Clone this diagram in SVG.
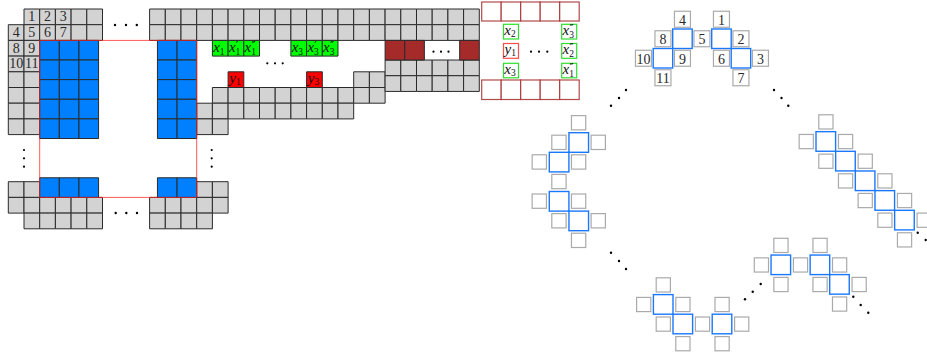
<svg xmlns="http://www.w3.org/2000/svg" width="927" height="354" viewBox="0 0 927 354">
<style>
text{font-family:"Liberation Serif","DejaVu Serif",serif;fill:#222}
.n{font-size:14px;text-anchor:middle;fill:#2a2a2a}
.it{font-size:15px;font-style:italic;fill:#111}
.sb{font-size:9.5px;font-style:normal}
.sp{font-size:11px;font-style:normal;font-family:"DejaVu Serif",serif;fill:#000}
.gb{fill:#fff;stroke:#aaa;stroke-width:1.2}
.bb{fill:none;stroke:#1a78ff;stroke-width:1.4}
.lg{fill:#fff;stroke:#2de02d;stroke-width:1.2}
.lr{fill:#fff;stroke:#ff4d4d;stroke-width:1.2}
.rb{fill:#fff;stroke:#a52a2a;stroke-width:1.2;stroke-opacity:.85}
.d{fill:#000}
</style>
<defs>
<rect id="u" width="1" height="1" vector-effect="non-scaling-stroke"/>
<rect id="b" width="1.25" height="1.25" vector-effect="non-scaling-stroke"/>
</defs>

<g id="grid" transform="translate(8.3 9) scale(15.7)" stroke="#2a2a2a" stroke-width="1">
<g id="gray" fill="#d3d3d3">
<use href="#u" x="1" y="0"/><use href="#u" x="2" y="0"/><use href="#u" x="3" y="0"/><use href="#u" x="4" y="0"/><use href="#u" x="5" y="0"/>
<use href="#u" x="9" y="0"/><use href="#u" x="10" y="0"/><use href="#u" x="11" y="0"/><use href="#u" x="12" y="0"/><use href="#u" x="13" y="0"/><use href="#u" x="14" y="0"/><use href="#u" x="15" y="0"/><use href="#u" x="16" y="0"/><use href="#u" x="17" y="0"/><use href="#u" x="18" y="0"/><use href="#u" x="19" y="0"/><use href="#u" x="20" y="0"/><use href="#u" x="21" y="0"/><use href="#u" x="22" y="0"/><use href="#u" x="23" y="0"/><use href="#u" x="24" y="0"/><use href="#u" x="25" y="0"/><use href="#u" x="26" y="0"/><use href="#u" x="27" y="0"/><use href="#u" x="28" y="0"/><use href="#u" x="29" y="0"/>
<use href="#u" x="0" y="1"/><use href="#u" x="1" y="1"/><use href="#u" x="2" y="1"/><use href="#u" x="3" y="1"/><use href="#u" x="4" y="1"/><use href="#u" x="5" y="1"/>
<use href="#u" x="9" y="1"/><use href="#u" x="10" y="1"/><use href="#u" x="11" y="1"/><use href="#u" x="12" y="1"/><use href="#u" x="13" y="1"/><use href="#u" x="14" y="1"/><use href="#u" x="15" y="1"/><use href="#u" x="16" y="1"/><use href="#u" x="17" y="1"/><use href="#u" x="18" y="1"/><use href="#u" x="19" y="1"/><use href="#u" x="20" y="1"/><use href="#u" x="21" y="1"/><use href="#u" x="22" y="1"/><use href="#u" x="23" y="1"/><use href="#u" x="24" y="1"/><use href="#u" x="25" y="1"/><use href="#u" x="26" y="1"/><use href="#u" x="27" y="1"/><use href="#u" x="28" y="1"/><use href="#u" x="29" y="1"/>
<use href="#u" x="0" y="2"/><use href="#u" x="1" y="2"/>
<use href="#u" x="0" y="3"/><use href="#u" x="1" y="3"/>
<use href="#u" x="0" y="4"/><use href="#u" x="1" y="4"/><use href="#u" x="22" y="4"/><use href="#u" x="23" y="4"/>
<use href="#u" x="0" y="5"/><use href="#u" x="1" y="5"/>
<use href="#u" x="13" y="5"/><use href="#u" x="14" y="5"/><use href="#u" x="15" y="5"/><use href="#u" x="16" y="5"/><use href="#u" x="17" y="5"/><use href="#u" x="18" y="5"/><use href="#u" x="19" y="5"/><use href="#u" x="20" y="5"/><use href="#u" x="21" y="5"/><use href="#u" x="22" y="5"/><use href="#u" x="23" y="5"/>
<use href="#u" x="0" y="6"/><use href="#u" x="1" y="6"/>
<use href="#u" x="12" y="6"/><use href="#u" x="13" y="6"/><use href="#u" x="14" y="6"/><use href="#u" x="15" y="6"/><use href="#u" x="16" y="6"/><use href="#u" x="17" y="6"/><use href="#u" x="18" y="6"/><use href="#u" x="19" y="6"/><use href="#u" x="20" y="6"/><use href="#u" x="21" y="6"/>
<use href="#u" x="0" y="7"/><use href="#u" x="1" y="7"/><use href="#u" x="12" y="7"/><use href="#u" x="13" y="7"/>
<use href="#u" x="0" y="11"/><use href="#u" x="1" y="11"/><use href="#u" x="12" y="11"/><use href="#u" x="13" y="11"/>
<use href="#u" x="0" y="12"/><use href="#u" x="1" y="12"/><use href="#u" x="2" y="12"/><use href="#u" x="3" y="12"/><use href="#u" x="4" y="12"/><use href="#u" x="5" y="12"/>
<use href="#u" x="9" y="12"/><use href="#u" x="10" y="12"/><use href="#u" x="11" y="12"/><use href="#u" x="12" y="12"/><use href="#u" x="13" y="12"/>
<use href="#u" x="1" y="13"/><use href="#u" x="2" y="13"/><use href="#u" x="3" y="13"/><use href="#u" x="4" y="13"/><use href="#u" x="5" y="13"/>
<use href="#u" x="9" y="13"/><use href="#u" x="10" y="13"/><use href="#u" x="11" y="13"/><use href="#u" x="12" y="13"/>
<use href="#u" x="24" y="3.25"/><use href="#u" x="25" y="3.25"/><use href="#u" x="26" y="3.25"/><use href="#u" x="27" y="3.25"/><use href="#u" x="28" y="3.25"/><use href="#u" x="29" y="3.25"/>
<use href="#u" x="24" y="4.25"/><use href="#u" x="25" y="4.25"/><use href="#u" x="26" y="4.25"/><use href="#u" x="27" y="4.25"/><use href="#u" x="28" y="4.25"/><use href="#u" x="29" y="4.25"/>
</g>
<g id="blue" fill="#0080ff">
<use href="#b" x="2" y="2"/><use href="#b" x="3.25" y="2"/><use href="#b" x="4.5" y="2"/>
<use href="#b" x="2" y="3.25"/><use href="#b" x="3.25" y="3.25"/><use href="#b" x="4.5" y="3.25"/>
<use href="#b" x="2" y="4.5"/><use href="#b" x="3.25" y="4.5"/><use href="#b" x="4.5" y="4.5"/>
<use href="#b" x="2" y="5.75"/><use href="#b" x="3.25" y="5.75"/><use href="#b" x="4.5" y="5.75"/>
<use href="#b" x="2" y="7"/><use href="#b" x="3.25" y="7"/><use href="#b" x="4.5" y="7"/>
<use href="#b" x="2" y="10.75"/><use href="#b" x="3.25" y="10.75"/><use href="#b" x="4.5" y="10.75"/>
<use href="#b" x="9.5" y="2"/><use href="#b" x="10.75" y="2"/>
<use href="#b" x="9.5" y="3.25"/><use href="#b" x="10.75" y="3.25"/>
<use href="#b" x="9.5" y="4.5"/><use href="#b" x="10.75" y="4.5"/>
<use href="#b" x="9.5" y="5.75"/><use href="#b" x="10.75" y="5.75"/>
<use href="#b" x="9.5" y="7"/><use href="#b" x="10.75" y="7"/>
<use href="#b" x="9.5" y="10.75"/><use href="#b" x="10.75" y="10.75"/>
</g>
<g id="green" fill="#00ff00">
<use href="#u" x="13" y="2"/><use href="#u" x="14" y="2"/><use href="#u" x="15" y="2"/>
<use href="#u" x="18" y="2"/><use href="#u" x="19" y="2"/><use href="#u" x="20" y="2"/>
</g>
<g id="red" fill="#ff0000">
<use href="#u" x="14" y="4"/><use href="#u" x="19" y="4"/>
</g>
<g id="brown" fill="#a52a2a">
<use href="#b" x="24" y="2"/><use href="#b" x="25.25" y="2"/><use href="#b" x="28.75" y="2"/>
</g>
<rect id="redframe" x="2" y="2" width="10" height="10" fill="none" stroke="#ff2020" stroke-opacity=".75" vector-effect="non-scaling-stroke"/>
</g>

<g id="gridlabels">
<text class="n" x="31.85" y="21.3">1</text><text class="n" x="47.55" y="21.3">2</text><text class="n" x="63.25" y="21.3">3</text>
<text class="n" x="16.15" y="37">4</text><text class="n" x="31.85" y="37">5</text><text class="n" x="47.55" y="37">6</text><text class="n" x="63.25" y="37">7</text>
<text class="n" x="16.15" y="52.7">8</text><text class="n" x="31.85" y="52.7">9</text>
<text class="n" x="16.15" y="68.4">10</text><text class="n" x="31.85" y="68.4">11</text>
<text class="it" x="213.2" y="52.3">x<tspan class="sb" dy="2.5">1</tspan></text>
<text class="it" x="228.9" y="52.3">x<tspan class="sb" dy="2.5">1</tspan><tspan class="sp" dx="-4.5" dy="-5.5">′</tspan></text>
<text class="it" x="244.6" y="52.3">x<tspan class="sb" dy="2.5">1</tspan><tspan class="sp" dx="-4.5" dy="-5.5">″</tspan></text>
<text class="it" x="291.7" y="52.3">x<tspan class="sb" dy="2.5">3</tspan></text>
<text class="it" x="307.4" y="52.3">x<tspan class="sb" dy="2.5">3</tspan><tspan class="sp" dx="-4.5" dy="-5.5">′</tspan></text>
<text class="it" x="323.1" y="52.3">x<tspan class="sb" dy="2.5">3</tspan><tspan class="sp" dx="-4.5" dy="-5.5">″</tspan></text>
<text class="it" x="229.3" y="82.5">y<tspan class="sb" dy="2.5">1</tspan></text>
<text class="it" x="307.8" y="82.5">y<tspan class="sb" dy="2.5">3</tspan></text>
</g>

<g id="rightbox">
<rect class="rb" x="481.7" y="2" width="19.5" height="19"/><rect class="rb" x="501.2" y="2" width="19.5" height="19"/><rect class="rb" x="520.7" y="2" width="19.5" height="19"/><rect class="rb" x="540.2" y="2" width="19.5" height="19"/><rect class="rb" x="559.7" y="2" width="19.5" height="19"/>
<rect class="rb" x="481.7" y="80" width="19.5" height="19.5"/><rect class="rb" x="501.2" y="80" width="19.5" height="19.5"/><rect class="rb" x="520.7" y="80" width="19.5" height="19.5"/><rect class="rb" x="540.2" y="80" width="19.5" height="19.5"/><rect class="rb" x="559.7" y="80" width="19.5" height="19.5"/>
<rect class="lg" x="503.5" y="24.3" width="15" height="14.7"/>
<rect class="lr" x="503.5" y="43.5" width="15" height="14.8"/>
<rect class="lg" x="503.5" y="63.3" width="15" height="14.5"/>
<rect class="lg" x="561.7" y="24.3" width="15" height="14.7"/>
<rect class="lg" x="561.7" y="43.5" width="15" height="14.8"/>
<rect class="lg" x="561.7" y="63.3" width="15" height="14.5"/>
<text class="it" x="504.3" y="34.5">x<tspan class="sb" dy="2.5">2</tspan></text>
<text class="it" x="504.6" y="53.5">y<tspan class="sb" dy="2.5">1</tspan></text>
<text class="it" x="504.3" y="73.5">x<tspan class="sb" dy="2.5">3</tspan></text>
<text class="it" x="562.5" y="35">x<tspan class="sb" dy="2.5">3</tspan><tspan class="sp" dx="-4.5" dy="-5.5">″</tspan></text>
<text class="it" x="562.5" y="54.3">x<tspan class="sb" dy="2.5">2</tspan><tspan class="sp" dx="-4.5" dy="-5.5">″</tspan></text>
<text class="it" x="562.5" y="74">x<tspan class="sb" dy="2.5">1</tspan><tspan class="sp" dx="-4.5" dy="-5.5">″</tspan></text>
</g>

<g id="ring-top">
<rect class="bb" x="672.7" y="29" width="19.5" height="19.5"/><rect class="bb" x="653.2" y="48.5" width="19.5" height="19.5"/>
<rect class="bb" x="711.7" y="29" width="19.5" height="19.5"/><rect class="bb" x="731.2" y="48.5" width="19.5" height="19.5"/>
<rect class="gb" x="674.45" y="11.25" width="16" height="16"/><text class="n" x="682.45" y="24.6">4</text>
<rect class="gb" x="713.45" y="11.25" width="16" height="16"/><text class="n" x="721.45" y="24.6">1</text>
<rect class="gb" x="654.95" y="30.75" width="16" height="16"/><text class="n" x="662.95" y="44.1">8</text>
<rect class="gb" x="693.95" y="30.75" width="16" height="16"/><text class="n" x="701.95" y="44.1">5</text>
<rect class="gb" x="732.95" y="30.75" width="16" height="16"/><text class="n" x="740.95" y="44.1">2</text>
<rect class="gb" x="635.45" y="50.25" width="16" height="16"/><text class="n" x="643.45" y="63.6">10</text>
<rect class="gb" x="674.45" y="50.25" width="16" height="16"/><text class="n" x="682.45" y="63.6">9</text>
<rect class="gb" x="713.45" y="50.25" width="16" height="16"/><text class="n" x="721.45" y="63.6">6</text>
<rect class="gb" x="752.45" y="50.25" width="16" height="16"/><text class="n" x="760.45" y="63.6">3</text>
<rect class="gb" x="654.95" y="69.75" width="16" height="16"/><text class="n" x="662.95" y="83.1">11</text>
<rect class="gb" x="732.95" y="69.75" width="16" height="16"/><text class="n" x="740.95" y="83.1">7</text>
</g>

<g id="ring-left">
<rect class="bb" x="568.95" y="132.7" width="19.6" height="19.6"/><rect class="bb" x="549.3" y="152.3" width="19.6" height="19.6"/>
<rect class="bb" x="549.3" y="191.5" width="19.6" height="19.6"/><rect class="bb" x="568.95" y="211.1" width="19.6" height="19.6"/>
<rect class="gb" x="571.45" y="115.6" width="14.3" height="14.3"/>
<rect class="gb" x="551.8" y="135.2" width="14.3" height="14.3"/>
<rect class="gb" x="591.1" y="135.2" width="14.3" height="14.3"/>
<rect class="gb" x="532.15" y="154.8" width="14.3" height="14.3"/>
<rect class="gb" x="571.45" y="154.8" width="14.3" height="14.3"/>
<rect class="gb" x="551.8" y="174.4" width="14.3" height="14.3"/>
<rect class="gb" x="532.15" y="194" width="14.3" height="14.3"/>
<rect class="gb" x="571.45" y="194" width="14.3" height="14.3"/>
<rect class="gb" x="551.8" y="213.6" width="14.3" height="14.3"/>
<rect class="gb" x="591.1" y="213.6" width="14.3" height="14.3"/>
<rect class="gb" x="571.45" y="233.2" width="14.3" height="14.3"/>
</g>

<g id="ring-right">
<rect class="bb" x="816" y="131.66" width="19.6" height="19.6"/>
<rect class="bb" x="835.66" y="151.32" width="19.6" height="19.6"/>
<rect class="bb" x="855.32" y="170.98" width="19.6" height="19.6"/>
<rect class="bb" x="874.98" y="190.64" width="19.6" height="19.6"/>
<rect class="bb" x="894.64" y="210.3" width="19.6" height="19.6"/>
<rect class="gb" x="818.8" y="114.8" width="14.2" height="14.2"/>
<rect class="gb" x="799.14" y="134.46" width="14.2" height="14.2"/>
<rect class="gb" x="838.46" y="134.46" width="14.2" height="14.2"/>
<rect class="gb" x="818.8" y="154.12" width="14.2" height="14.2"/>
<rect class="gb" x="858.12" y="154.12" width="14.2" height="14.2"/>
<rect class="gb" x="838.46" y="173.78" width="14.2" height="14.2"/>
<rect class="gb" x="877.78" y="173.78" width="14.2" height="14.2"/>
<rect class="gb" x="858.12" y="193.44" width="14.2" height="14.2"/>
<rect class="gb" x="897.44" y="193.44" width="14.2" height="14.2"/>
<rect class="gb" x="877.78" y="213.1" width="14.2" height="14.2"/>
<rect class="gb" x="917.1" y="213.1" width="14.2" height="14.2"/>
<rect class="gb" x="897.44" y="232.76" width="14.2" height="14.2"/>
</g>

<g id="ring-bottom-right">
<rect class="bb" x="771.05" y="255.05" width="19.55" height="19.55"/>
<rect class="bb" x="810.15" y="255.05" width="19.55" height="19.55"/>
<rect class="bb" x="829.7" y="274.6" width="19.55" height="19.55"/>
<rect class="gb" x="773.85" y="238.3" width="14.2" height="14.2"/>
<rect class="gb" x="812.95" y="238.3" width="14.2" height="14.2"/>
<rect class="gb" x="754.3" y="257.85" width="14.2" height="14.2"/>
<rect class="gb" x="793.4" y="257.85" width="14.2" height="14.2"/>
<rect class="gb" x="832.5" y="257.85" width="14.2" height="14.2"/>
<rect class="gb" x="773.85" y="277.4" width="14.2" height="14.2"/>
<rect class="gb" x="812.95" y="277.4" width="14.2" height="14.2"/>
<rect class="gb" x="852.05" y="277.4" width="14.2" height="14.2"/>
<rect class="gb" x="832.5" y="296.95" width="14.2" height="14.2"/>
</g>

<g id="ring-bottom-left">
<rect class="bb" x="653.4" y="294.6" width="19.6" height="19.6"/>
<rect class="bb" x="673" y="314.2" width="19.6" height="19.6"/>
<rect class="bb" x="712.2" y="314.2" width="19.6" height="19.6"/>
<rect class="gb" x="656.2" y="277.8" width="14.2" height="14.2"/>
<rect class="gb" x="636.6" y="297.4" width="14.2" height="14.2"/>
<rect class="gb" x="675.8" y="297.4" width="14.2" height="14.2"/>
<rect class="gb" x="715" y="297.4" width="14.2" height="14.2"/>
<rect class="gb" x="656.2" y="317" width="14.2" height="14.2"/>
<rect class="gb" x="695.4" y="317" width="14.2" height="14.2"/>
<rect class="gb" x="734.6" y="317" width="14.2" height="14.2"/>
<rect class="gb" x="675.8" y="336.6" width="14.2" height="14.2"/>
<rect class="gb" x="715" y="336.6" width="14.2" height="14.2"/>
</g>

<g id="dots" class="d">
<circle cx="115" cy="25" r="1.2"/><circle cx="126" cy="25" r="1.2"/><circle cx="136.8" cy="25" r="1.2"/>
<circle cx="115.7" cy="213" r="1.2"/><circle cx="126.3" cy="213" r="1.2"/><circle cx="137" cy="213" r="1.2"/>
<circle cx="267.3" cy="63.3" r="1.1"/><circle cx="275" cy="63.3" r="1.1"/><circle cx="282.7" cy="63.3" r="1.1"/>
<circle cx="433.5" cy="51.7" r="1.1"/><circle cx="441" cy="51.7" r="1.1"/><circle cx="448.5" cy="51.7" r="1.1"/>
<circle cx="531" cy="51.7" r="1.1"/><circle cx="539" cy="51.7" r="1.1"/><circle cx="547.3" cy="51.7" r="1.1"/>
<circle cx="24" cy="150" r="1.1"/><circle cx="24" cy="158.3" r="1.1"/><circle cx="24" cy="166.7" r="1.1"/>
<circle cx="211.7" cy="150" r="1.1"/><circle cx="211.7" cy="158.3" r="1.1"/><circle cx="211.7" cy="166.7" r="1.1"/>
<circle cx="626" cy="90" r="1.2"/><circle cx="619" cy="98" r="1.2"/><circle cx="611" cy="105.7" r="1.2"/>
<circle cx="774" cy="90" r="1.2"/><circle cx="781.5" cy="98" r="1.2"/><circle cx="788.3" cy="105.7" r="1.2"/>
<circle cx="917.7" cy="232.7" r="1.2"/><circle cx="925.7" cy="240" r="1.2"/>
<circle cx="611" cy="252.7" r="1.2"/><circle cx="619" cy="261" r="1.2"/><circle cx="626" cy="269" r="1.2"/>
<circle cx="745" cy="299.3" r="1.2"/><circle cx="752.7" cy="291.7" r="1.2"/><circle cx="760.7" cy="284" r="1.2"/>
<circle cx="853.3" cy="296.7" r="1.2"/><circle cx="860.7" cy="305" r="1.2"/><circle cx="868.3" cy="312.7" r="1.2"/>
</g>
</svg>
